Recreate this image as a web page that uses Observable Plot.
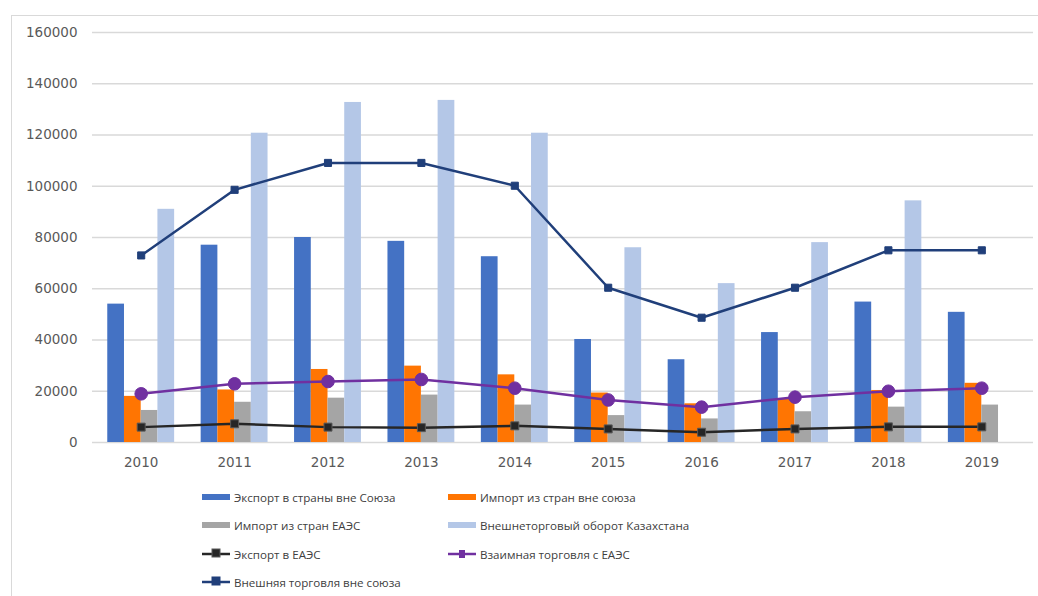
<!DOCTYPE html>
<html>
<head>
<meta charset="utf-8">
<script src="https://cdn.jsdelivr.net/npm/d3@7"></script>
<script src="https://cdn.jsdelivr.net/npm/@observablehq/plot@0.6"></script>
<style>
  html, body { margin: 0; padding: 0; background: #fff; overflow: hidden; width: 1038px; height: 596px; }
  #frame { position: absolute; left: 11px; top: 15px; width: 1100px; height: 700px; border: 1px solid #d9d9d9; box-sizing: border-box; }
  #chart { position: absolute; left: 0; top: 0; }
  #legend { position: absolute; left: 0; top: 0; font-family: "Open Sans", sans-serif; font-size: 11.6px; color: #404040; }
  .item { position: absolute; display: flex; align-items: center; white-space: nowrap; }
  .item svg { margin-right: 4px; }
</style>
</head>
<body>
<div id="frame"></div>
<div id="chart"></div>
<div id="legend"></div>
<script>
const years = [2010, 2011, 2012, 2013, 2014, 2015, 2016, 2017, 2018, 2019];
const exportOutside = [54000, 77000, 80000, 78500, 72500, 40200, 32300, 42900, 54800, 50800];
const importOutside = [18000, 20500, 28500, 29800, 26400, 19300, 15100, 17000, 20300, 23100];
const importEAEU = [12500, 15700, 17300, 18500, 14600, 10500, 9200, 12000, 13800, 14600];
const turnover = [91000, 120700, 132700, 133500, 120700, 76000, 62000, 78000, 94300, null];
const exportEAEU = [6000, 7300, 6000, 5800, 6500, 5300, 4000, 5300, 6100, 6100];
const mutualEAEU = [19000, 22900, 23800, 24600, 21200, 16600, 13800, 17700, 20000, 21200];
const externalOutside = [73000, 98600, 109100, 109100, 100200, 60400, 48700, 60400, 75000, 75000];
const yTicks = [0, 20000, 40000, 60000, 80000, 100000, 120000, 140000, 160000];

const barSeries = [
  {name: "Экспорт в страны вне Союза", values: exportOutside, color: "#4472C4"},
  {name: "Импорт из стран вне союза", values: importOutside, color: "#FF7502"},
  {name: "Импорт из стран ЕАЭС", values: importEAEU, color: "#A5A5A5"},
  {name: "Внешнеторговый оборот Казахстана", values: turnover, color: "#B4C7E7"}
];
const lineSeries = [
  {name: "Экспорт в ЕАЭС", values: exportEAEU, color: "#262626", symbol: "square", r: 4.5},
  {name: "Взаимная торговля с ЕАЭС", values: mutualEAEU, color: "#7030A0", symbol: "circle", r: 6.3},
  {name: "Внешняя торговля вне союза", values: externalOutside, color: "#203F7A", symbol: "square", r: 4}
];

const barW = 0.179;
const bars = [];
barSeries.forEach((s, i) => {
  years.forEach((y, j) => {
    if (s.values[j] == null) return;
    bars.push({year: y, x1: y + (i - 2) * barW, x2: y + (i - 1) * barW, value: s.values[j], color: s.color});
  });
});
const lineRows = s => years.map((y, j) => ({year: y, value: s.values[j]}));

const chart = Plot.plot({
  width: 1038,
  height: 470,
  marginLeft: 94,
  marginRight: 10,
  marginTop: 32,
  marginBottom: 28,
  style: {fontFamily: "DejaVu Sans, sans-serif", fontSize: "13.5px", color: "#595959", background: "transparent"},
  x: {domain: [2009.5, 2019.5], ticks: years, tickFormat: d => String(d), tickSize: 0, tickPadding: 15, label: null},
  y: {domain: [0, 160000], ticks: yTicks, tickSize: 0, tickPadding: 17, label: null, tickFormat: d => String(d)},
  marks: [
    Plot.gridY(yTicks, {stroke: "#d9d9d9", strokeOpacity: 1, strokeWidth: 1.3, x1: 2009.5, x2: 2019.5, insetLeft: -2, insetRight: -5}),
    Plot.rectY(bars, {x1: "x1", x2: "x2", y: "value", fill: "color"}),
    ...lineSeries.flatMap(s => [
      Plot.line(lineRows(s), {x: "year", y: "value", stroke: s.color, strokeWidth: 2.5}),
      Plot.dot(lineRows(s), {x: "year", y: "value", symbol: s.symbol, r: s.r, fill: s.color, stroke: s.name === "Экспорт в ЕАЭС" ? "#595959" : s.color, strokeWidth: 1})
    ])
  ]
});
document.getElementById("chart").appendChild(chart);

const legend = document.getElementById("legend");
const items = [
  {s: barSeries[0], left: 202, top: 497, type: "bar"},
  {s: barSeries[1], left: 448, top: 497, type: "bar"},
  {s: barSeries[2], left: 202, top: 525, type: "bar"},
  {s: barSeries[3], left: 448, top: 525, type: "bar"},
  {s: lineSeries[0], left: 202, top: 554, type: "line"},
  {s: lineSeries[1], left: 448, top: 554, type: "line"},
  {s: lineSeries[2], left: 202, top: 582, type: "line"}
];
items.forEach(it => {
  const div = document.createElement("div");
  div.className = "item";
  div.style.left = it.left + "px";
  div.style.top = (it.top - 9) + "px";
  let sw;
  if (it.type === "bar") {
    sw = `<svg width="28" height="18"><rect x="0" y="6" width="28" height="6" fill="${it.s.color}"/></svg>`;
  } else {
    sw = `<svg width="28" height="18"><line x1="0" x2="28" y1="9" y2="9" stroke="${it.s.color}" stroke-width="2.5"/>` +
      (it.s.symbol === "circle"
        ? `<rect x="11" y="5" width="6" height="8" fill="${it.s.color}"/>`
        : `<rect x="10" y="4" width="8" height="8" fill="${it.s.color}" stroke="${it.s.color === '#262626' ? '#595959' : it.s.color}"/>`) + `</svg>`;
  }
  div.innerHTML = sw + `<span>${it.s.name}</span>`;
  legend.appendChild(div);
});
</script>
</body>
</html>
